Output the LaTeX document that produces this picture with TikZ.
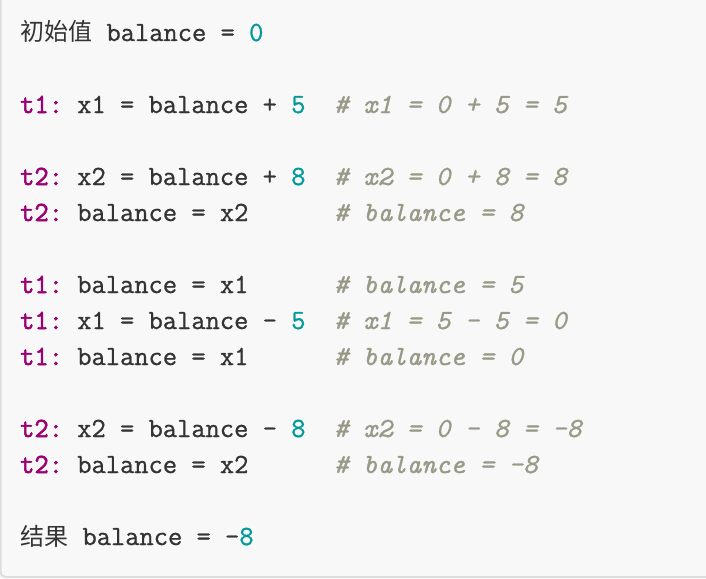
\documentclass[tikz,border=0pt]{standalone}
\usepackage{fontspec}
\setmonofont{Latin Modern Mono}[FakeBold=0.9]
\newfontfamily\keyfont{Latin Modern Mono}[FakeBold=2.2]
\newfontfamily\cjk{Noto Sans CJK SC}
\definecolor{codebg}{HTML}{F8F8F8}
\definecolor{codeframe}{HTML}{DDDDDD}
\definecolor{codetext}{HTML}{333333}
\definecolor{codekey}{HTML}{990073}
\definecolor{codenum}{HTML}{009999}
\definecolor{codecmt}{HTML}{999988}
\newcommand{\kw}[1]{\rlap{\textcolor{codekey}{\keyfont #1}}\hphantom{#1}}
\newcommand{\nm}[1]{\textcolor{codenum}{#1}}
\newcommand{\cm}[1]{\textcolor{codecmt}{\itshape #1}}
\newcommand{\gap}{\hphantom{x}}
\begin{document}
\begin{tikzpicture}[x=1pt,y=-1pt,
	codeline/.style={anchor=base west,inner sep=0pt,font=\ttfamily\fontsize{27.7}{27.7}\selectfont,text=codetext}]
	\useasboundingbox (0,0) rectangle (706,578);
	\fill[codebg] (0,0) rectangle (706,578);
	\draw[codeframe,line width=2pt,rounded corners=5pt] (0.5,-10) rectangle (716,577);
	% listing, one row every 36px
	\node[codeline] (init) at (20,41) {{\cjk\fontsize{24}{24}\selectfont 初始值} balance = \nm{0}};
	\node[codeline] (a1) at (20,41+2*36) {\kw{t1:} x1 = balance + \nm{5}\gap\gap\cm{\# x1 = 0 + 5 = 5}};
	\node[codeline] (b1) at (20,41+4*36) {\kw{t2:} x2 = balance + \nm{8}\gap\gap\cm{\# x2 = 0 + 8 = 8}};
	\node[codeline] (b2) at (20,41+5*36) {\kw{t2:} balance = x2\gap\gap\gap\gap\gap\gap\cm{\# balance = 8}};
	\node[codeline] (a2) at (20,41+7*36) {\kw{t1:} balance = x1\gap\gap\gap\gap\gap\gap\cm{\# balance = 5}};
	\node[codeline] (a3) at (20,41+8*36) {\kw{t1:} x1 = balance - \nm{5}\gap\gap\cm{\# x1 = 5 - 5 = 0}};
	\node[codeline] (a4) at (20,41+9*36) {\kw{t1:} balance = x1\gap\gap\gap\gap\gap\gap\cm{\# balance = 0}};
	\node[codeline] (b3) at (20,41+11*36) {\kw{t2:} x2 = balance - \nm{8}\gap\gap\cm{\# x2 = 0 - 8 = -8}};
	\node[codeline] (b4) at (20,41+12*36) {\kw{t2:} balance = x2\gap\gap\gap\gap\gap\gap\cm{\# balance = -8}};
	\node[codeline] (result) at (20,41+14*36) {{\cjk\fontsize{24}{24}\selectfont 结果} balance = -\nm{8}};
\end{tikzpicture}
\end{document}
